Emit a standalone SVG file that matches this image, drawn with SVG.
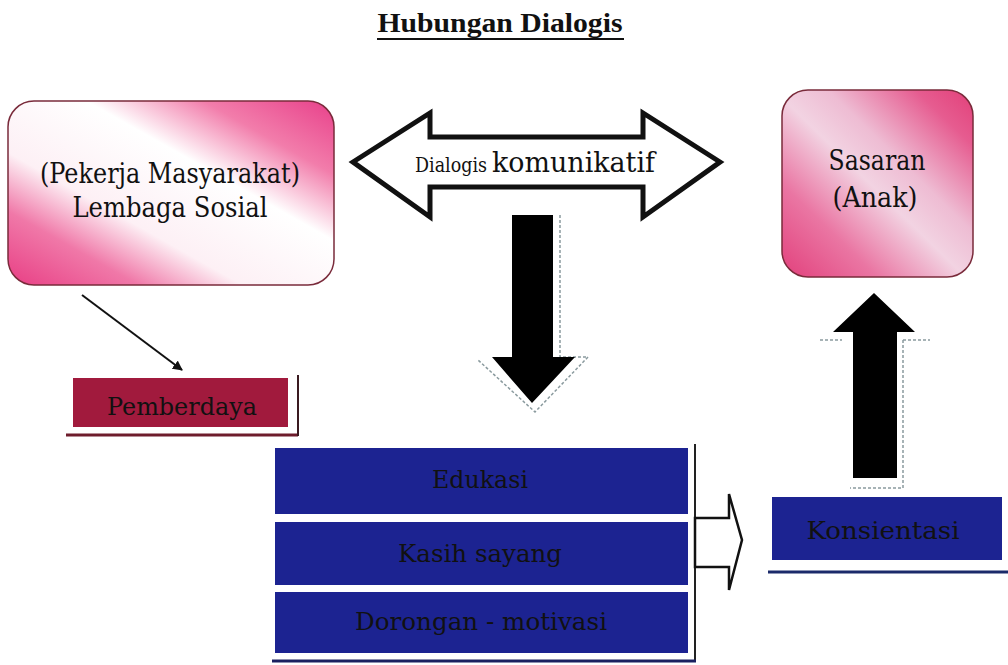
<svg xmlns="http://www.w3.org/2000/svg" width="1008" height="665" viewBox="0 0 1008 665">
<defs>
<style>
text{fill:#111;text-anchor:middle;font-family:"DejaVu Serif",serif}
text.b{font-family:"Liberation Serif","DejaVu Serif",serif;font-weight:bold}
.blue{fill:#1c2391}
.shadow{fill:none;stroke:#8a9a9e;stroke-width:1.5;stroke-dasharray:3 2}
</style>
<linearGradient id="gLeft" x1="0" y1="1" x2="1" y2="0">
<stop offset="0" stop-color="#e83e84"/>
<stop offset="0.2" stop-color="#f078a8"/>
<stop offset="0.36" stop-color="#fdf0f5"/>
<stop offset="0.62" stop-color="#ffffff"/>
<stop offset="0.8" stop-color="#f27dab"/>
<stop offset="1" stop-color="#e8408a"/>
</linearGradient>
<linearGradient id="gRight" x1="0" y1="1" x2="1" y2="0">
<stop offset="0" stop-color="#e2407c"/>
<stop offset="0.25" stop-color="#ea76a3"/>
<stop offset="0.48" stop-color="#f2d3e2"/>
<stop offset="0.62" stop-color="#eebcd3"/>
<stop offset="0.85" stop-color="#e65c90"/>
<stop offset="1" stop-color="#e23f79"/>
</linearGradient>
<marker id="ah" markerWidth="10" markerHeight="10" refX="9" refY="5" orient="auto" markerUnits="userSpaceOnUse" viewBox="0 0 10 10">
<path d="M0,0 L10,5 L0,10 z" fill="#111"/>
</marker>
</defs>
<rect width="1008" height="665" fill="#ffffff"/>

<g id="title">
<text class="b" x="500" y="32" font-size="27" textLength="245" lengthAdjust="spacingAndGlyphs">Hubungan Dialogis</text>
<line x1="377" y1="39" x2="624" y2="39" stroke="#111" stroke-width="2"/>
</g>

<g id="node-lembaga">
<rect x="8" y="101" width="326" height="184" rx="26" fill="url(#gLeft)" stroke="#7a2b3b" stroke-width="1.5"/>
<text x="170" y="183" font-size="27" textLength="260" lengthAdjust="spacingAndGlyphs">(Pekerja Masyarakat)</text>
<text x="170" y="217" font-size="27" textLength="195" lengthAdjust="spacingAndGlyphs">Lembaga Sosial</text>
</g>

<g id="node-sasaran">
<rect x="782" y="90" width="191" height="187" rx="26" fill="url(#gRight)" stroke="#7a2b3b" stroke-width="1.5"/>
<text x="877" y="170" font-size="27" textLength="97" lengthAdjust="spacingAndGlyphs">Sasaran</text>
<text x="875" y="207" font-size="27" textLength="85" lengthAdjust="spacingAndGlyphs">(Anak)</text>
</g>

<g id="node-pemberdaya">
<line x1="66" y1="435" x2="298" y2="435" stroke="#6e1c2c" stroke-width="3"/>
<line x1="298" y1="375" x2="298" y2="436" stroke="#3a1a20" stroke-width="2"/>
<rect x="73" y="378" width="215" height="49" fill="#a11a3d"/>
<text x="182" y="415" font-size="24" textLength="150" lengthAdjust="spacingAndGlyphs">Pemberdaya</text>
</g>

<g id="node-edukasi">
<rect x="275" y="448" width="413" height="66" class="blue"/>
<text x="480" y="488" font-size="25" textLength="96" lengthAdjust="spacingAndGlyphs">Edukasi</text>
</g>
<g id="node-kasih">
<rect x="275" y="522" width="413" height="63" class="blue"/>
<text x="480" y="562" font-size="25" textLength="164" lengthAdjust="spacingAndGlyphs">Kasih sayang</text>
</g>
<g id="node-dorongan">
<rect x="275" y="592" width="413" height="61" class="blue"/>
<text x="481" y="630" font-size="25" textLength="252" lengthAdjust="spacingAndGlyphs">Dorongan - motivasi</text>
</g>
<g id="stack-shadow">
<line x1="695" y1="444" x2="695" y2="662" stroke="#222" stroke-width="2"/>
<line x1="272" y1="661" x2="696" y2="661" stroke="#1a2060" stroke-width="3"/>
</g>

<g id="node-konsientasi">
<rect x="772" y="497" width="230" height="63" class="blue"/>
<text x="883" y="539" font-size="25" textLength="153" lengthAdjust="spacingAndGlyphs">Konsientasi</text>
<line x1="768" y1="572" x2="1008" y2="572" stroke="#1b2a6a" stroke-width="3"/>
</g>

<g id="connectors">
<g id="dialogis-arrow">
<polygon points="353,162 430,113 430,137 643,137 643,113 720,162 643,217 643,187 430,187 430,217" fill="#ffffff" stroke="#111" stroke-width="5" stroke-linejoin="miter"/>
<text x="415" y="172" font-size="20" style="text-anchor:start" textLength="72" lengthAdjust="spacingAndGlyphs">Dialogis</text>
<text x="492" y="172" font-size="27" style="text-anchor:start" textLength="163" lengthAdjust="spacingAndGlyphs">komunikatif</text>
</g>
<g id="down-arrow">
<polyline class="shadow" points="560,215 560,357 588,357 535,412 478,360"/>
<polygon points="512,215 553,215 553,357 575,357 532,403 492,357 512,357" fill="#000"/>
</g>
<g id="up-arrow">
<polyline class="shadow" points="820,340 842,340"/>
<polyline class="shadow" points="903,340 930,340"/>
<polyline class="shadow" points="903,340 903,488 850,488"/>
<polygon points="874,293 915,332 897,332 897,478 853,478 853,332 833,332" fill="#000"/>
</g>
<line id="lembaga-to-pemberdaya" x1="82" y1="295" x2="182" y2="370" stroke="#111" stroke-width="2" marker-end="url(#ah)"/>
<polygon id="stack-to-konsientasi" points="695,518 729,518 729,494 742,540 729,590 729,567 695,567" fill="#ffffff" stroke="#111" stroke-width="2.5"/>
</g>
</svg>
